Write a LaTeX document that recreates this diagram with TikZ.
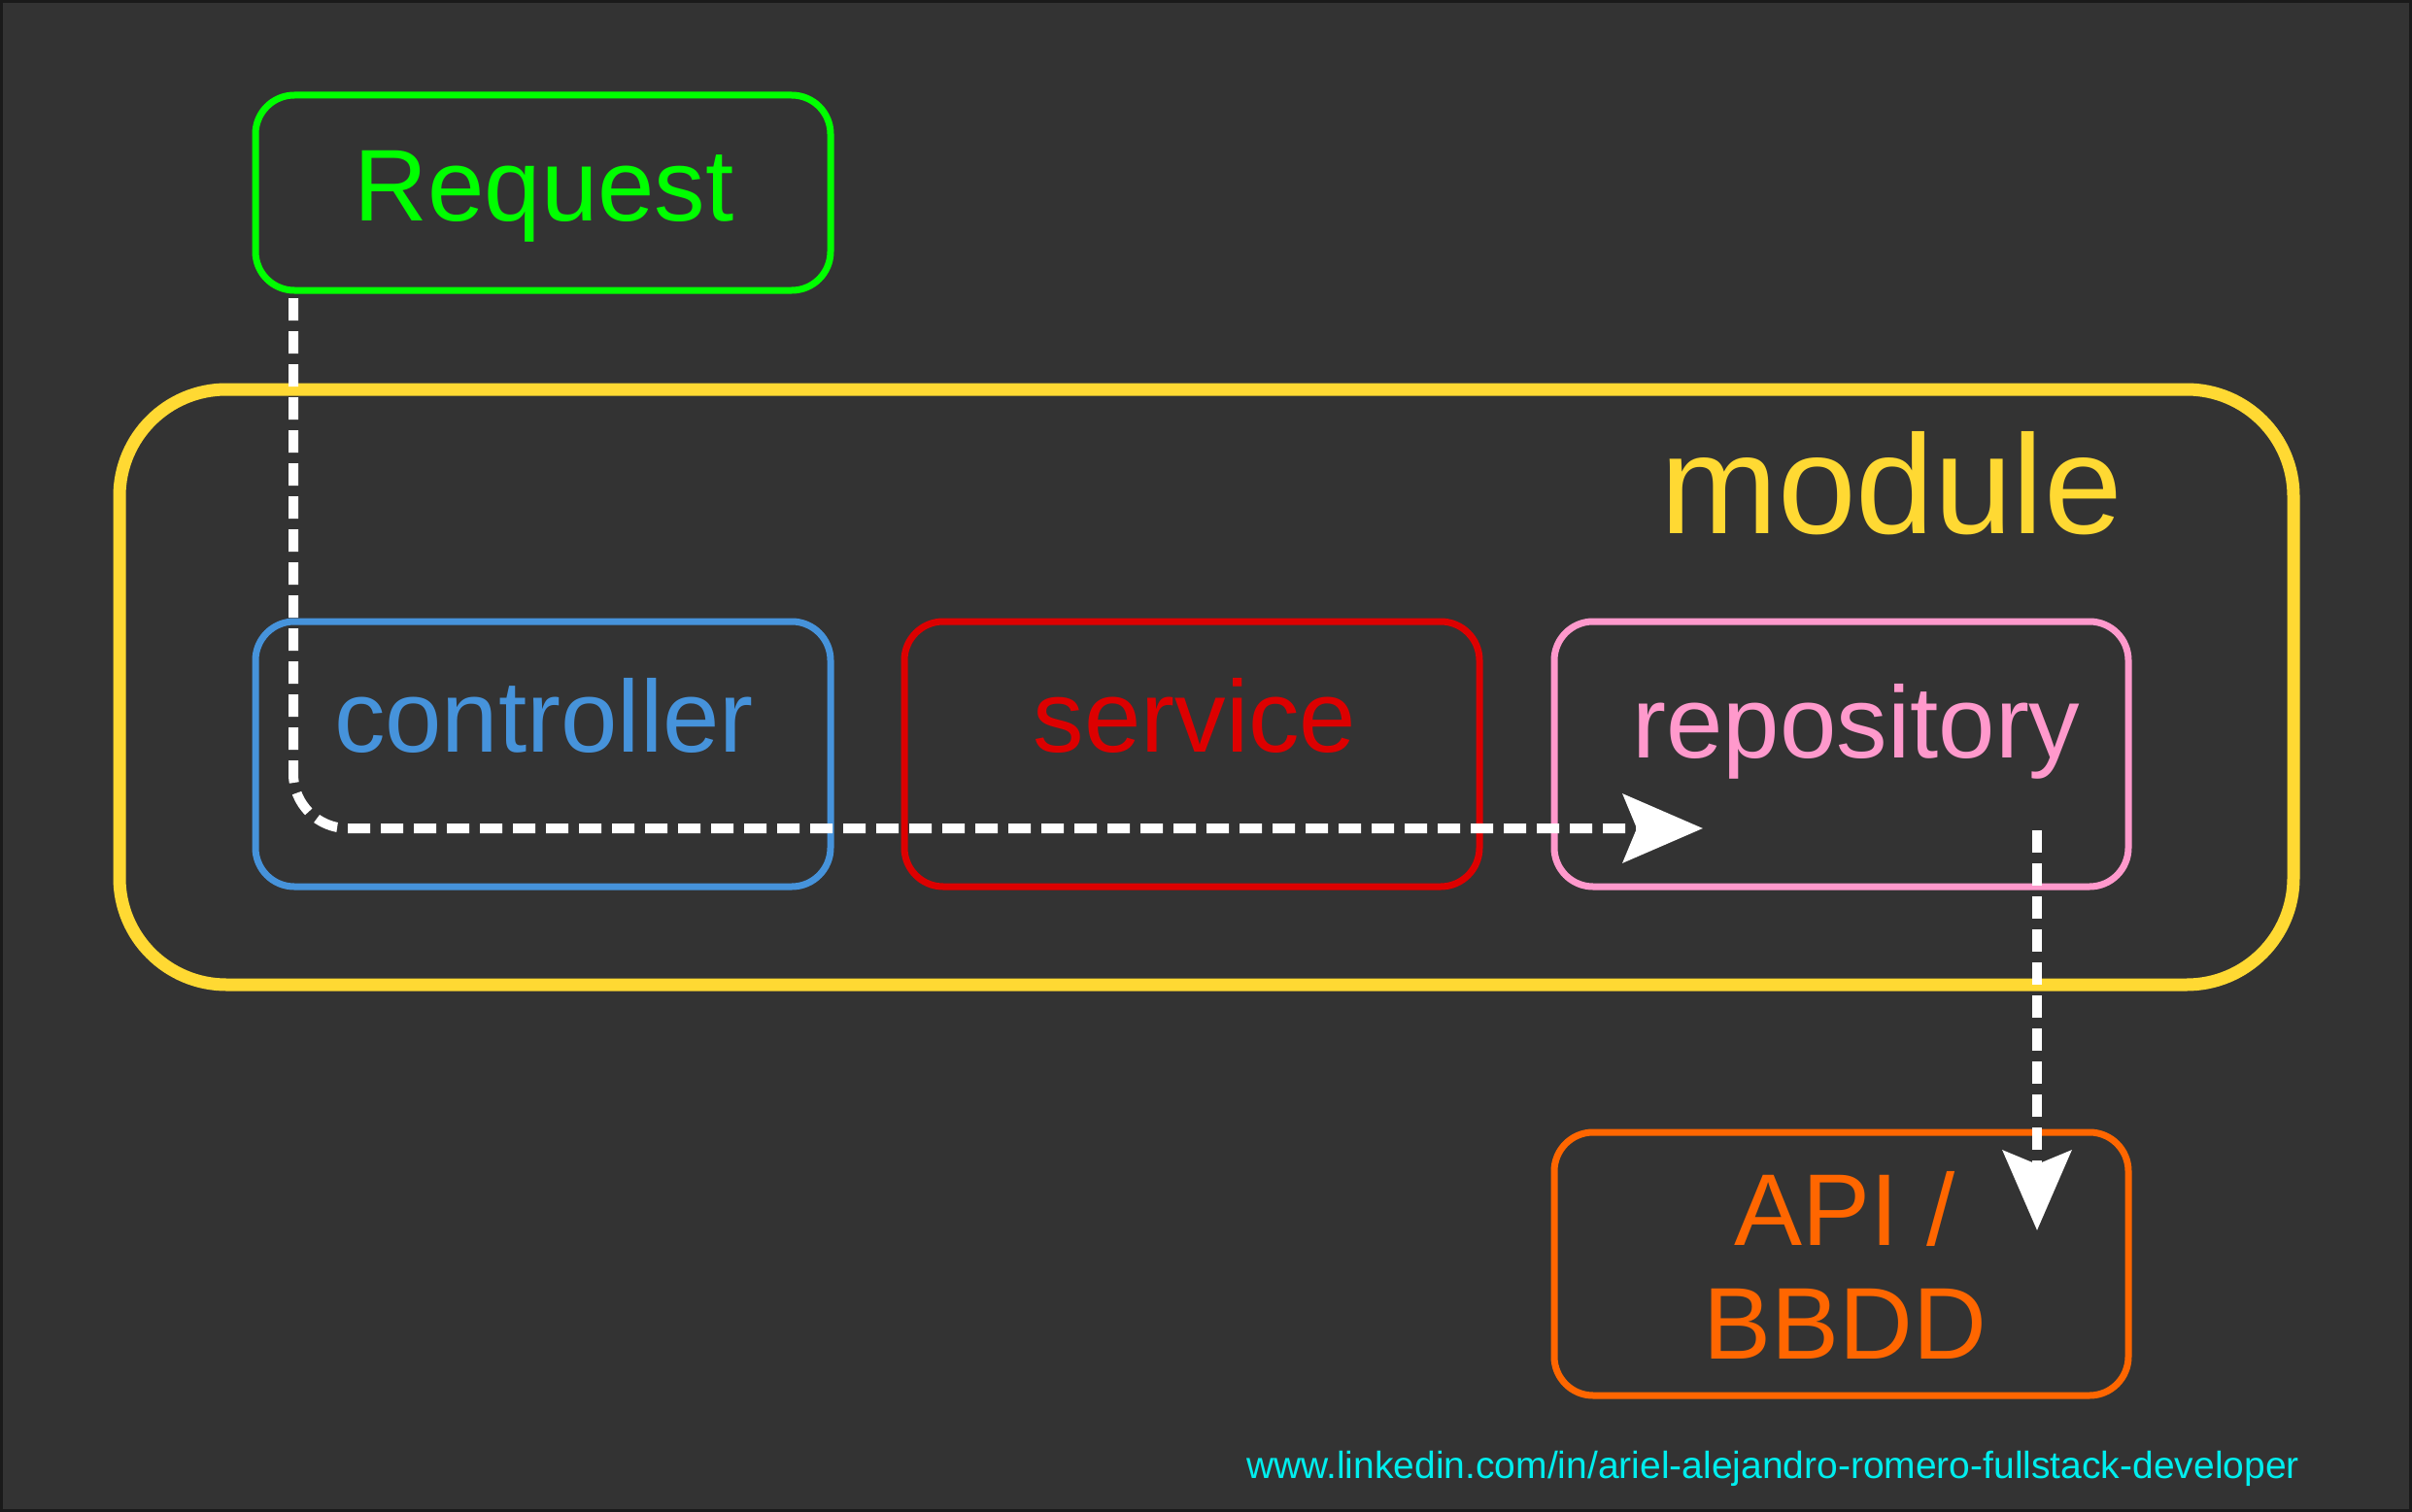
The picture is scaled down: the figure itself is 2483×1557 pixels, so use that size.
\documentclass[tikz,border=0pt]{standalone}
\usepackage{fontspec}
\setmainfont{Liberation Sans}
\usetikzlibrary{arrows.meta}
\definecolor{bgc}{HTML}{333333}
\definecolor{edgec}{HTML}{1A1A1A}
\definecolor{reqc}{HTML}{00FF00}
\definecolor{modc}{HTML}{FFD933}
\definecolor{ctrlc}{HTML}{4693DB}
\definecolor{servc}{HTML}{DD0000}
\definecolor{repoc}{HTML}{FF99CC}
\definecolor{apic}{HTML}{FF6600}
\definecolor{linkc}{HTML}{00EEEE}
\tikzset{
  box/.style={draw, rounded corners=40pt, line width=7pt, minimum width=592pt,
    minimum height=273pt, inner sep=0pt, outer sep=0pt},
  lbl/.style={anchor=base, inner sep=0pt, font=\fontsize{105}{117}\selectfont},
  flow/.style={draw=white, line width=10pt, dash pattern=on 23pt off 11pt,
    -{Stealth[length=82pt,width=70pt,inset=14pt]}},
}
\begin{document}
\begin{tikzpicture}[x=1pt,y=-1pt]
\useasboundingbox (0,0) rectangle (2483,1557);
\fill[bgc] (0,0) rectangle (2483,1557);
\draw[edgec, line width=3pt] (1.5,1.5) rectangle (2481.5,1555.5);

% module container
\node[box, draw=modc, line width=13pt, rounded corners=110pt,
  minimum width=2238pt, minimum height=613pt] (module) at (1242,707.5) {};
\node[lbl, text=modc, font=\fontsize{145}{160}\selectfont] (modt) at (1947,549) {module};

% boxes
\node[box, draw=reqc, minimum height=201pt] (req) at (559,198.5) {};
\node[lbl, text=reqc] (reqt) at (560,227) {Request};

\node[box, draw=ctrlc] (ctrl) at (559,776.5) {};
\node[lbl, text=ctrlc] (ctrlt) at (560,774) {controller};

\node[box, draw=servc] (serv) at (1227,776.5) {};
\node[lbl, text=servc] (servt) at (1230,774) {service};

\node[box, draw=repoc, minimum width=591pt] (repo) at (1895.5,776.5) {};
\node[lbl, text=repoc] (repot) at (1911,780) {repository};

\node[box, draw=apic, minimum width=591pt, minimum height=271pt] (api) at (1895.5,1301.5) {};
\node[text=apic, inner sep=0pt, align=center, font=\fontsize{105}{117}\selectfont] (apit) at (1899,1303) {API /\\BBDD};

% connectors
\coordinate (s1) at (302,307);
\coordinate (t1) at (1753,853);
\coordinate (s2) at (2097,855);
\coordinate (t2) at (2097,1267);
\draw[flow, rounded corners=56pt] (s1) |- (t1);
\draw[flow] (s2) -- (t2);

% watermark
\node[anchor=base, inner sep=0pt, text=linkc, font=\fontsize{39}{45}\selectfont] (link) at (1825,1522)
  {www.linkedin.com/in/ariel-alejandro-romero-fullstack-developer};
\end{tikzpicture}
\end{document}
